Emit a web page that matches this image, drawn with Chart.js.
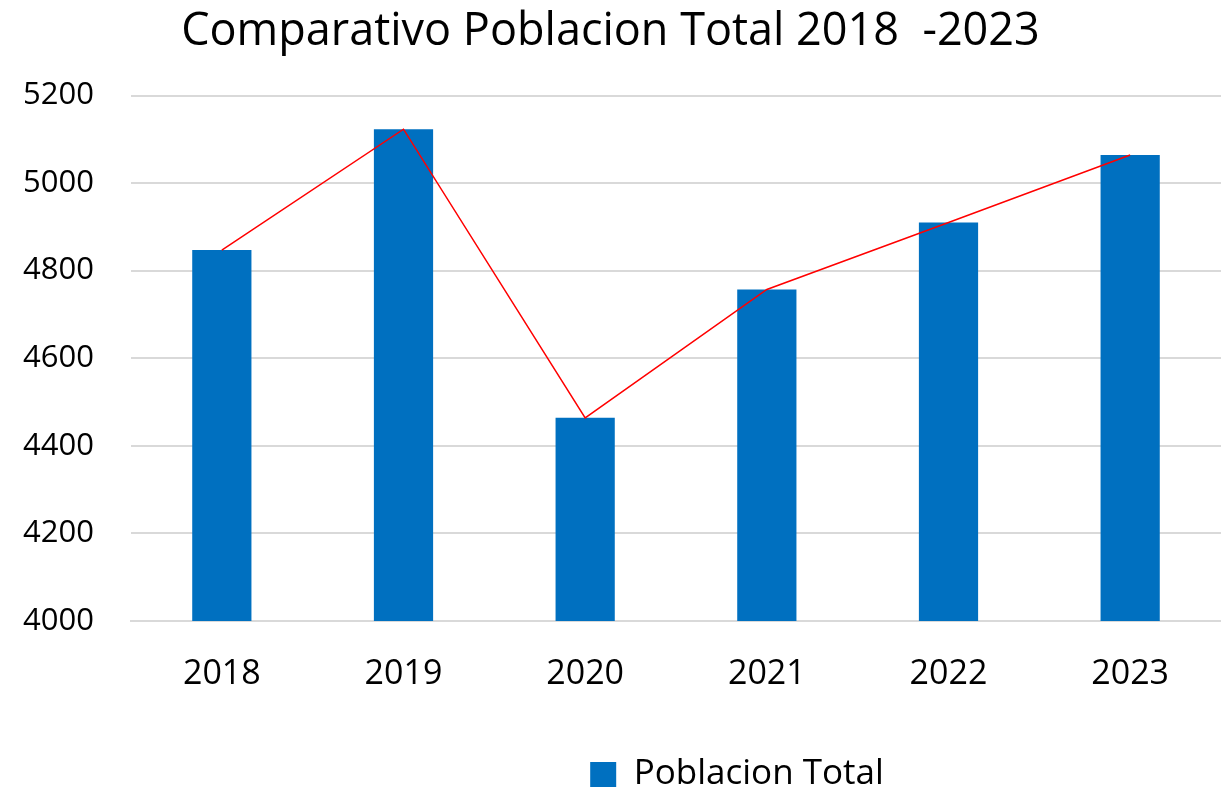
<!DOCTYPE html>
<html>
<head>
<meta charset="utf-8">
<script src="https://cdn.jsdelivr.net/npm/chart.js@4/dist/chart.umd.min.js"></script>
<style>
  html, body { margin: 0; padding: 0; background: #fff; }
  #chart { display: block; }
</style>
</head>
<body>
<canvas id="chart" width="1221" height="792"></canvas>
<script>
const years = ["2018", "2019", "2020", "2021", "2022", "2023"];
const poblacion = [4847, 5123, 4464, 4757, 4910, 5064];
const yTicks = [4000, 4200, 4400, 4600, 4800, 5000, 5200];

const font = "'Open Sans', 'Noto Sans', sans-serif";

// move the legend to where the original puts it (slightly right of centre)
const legendSpot = {
    id: "legendSpot",
    afterLayout(chart) {
        const lg = chart.legend;
        if (!lg) return;
        const dx = 737 - (lg.left + lg.right) / 2;
        const dy = 779.5 - (lg.top + lg.bottom) / 2;
        lg.left += dx; lg.right += dx;
        lg.top += dy; lg.bottom += dy;
        if (lg.adjustHitBoxes) lg.adjustHitBoxes();
    }
};

const ctx = document.getElementById("chart");
new Chart(ctx, {
    data: {
        labels: years,
        datasets: [
            {
                type: "line",
                label: "tendencia",
                data: poblacion,
                borderColor: "#ff0000",
                borderWidth: 1.5,
                pointRadius: 0,
                tension: 0,
                order: 0
            },
            {
                type: "bar",
                label: "Poblacion Total",
                data: poblacion,
                backgroundColor: "#0070c0",
                barPercentage: 0.326,
                categoryPercentage: 1,
                order: 1
            }
        ]
    },
    plugins: [legendSpot],
    options: {
        responsive: false,
        animation: false,
        layout: { padding: 0 },
        plugins: {
            title: {
                display: true,
                text: "Comparativo Poblacion Total 2018  -2023",
                color: "#000",
                font: { family: font, size: 45, weight: "normal" },
                padding: { top: 5, bottom: 36.5 }
            },
            legend: {
                position: "bottom",
                labels: {
                    color: "#000",
                    font: { family: font, size: 35 },
                    boxWidth: 26,
                    boxHeight: 25,
                    padding: 0,
                    filter: (item) => item.text === "Poblacion Total"
                }
            },
            tooltip: { enabled: false }
        },
        scales: {
            x: {
                grid: { display: false },
                border: { color: "#d9d9d9", width: 2 },
                ticks: {
                    color: "#000",
                    font: { family: font, size: 34 },
                    padding: 25
                },
                afterFit: (axis) => { axis.height = 126; }
            },
            y: {
                min: 4000,
                max: 5200,
                afterBuildTicks: (axis) => { axis.ticks = yTicks.map(v => ({ value: v })); },
                grid: { color: "#d9d9d9", lineWidth: 2, drawTicks: false },
                border: { display: false },
                ticks: {
                    color: "#000",
                    font: { family: font, size: 31 },
                    padding: 37,
                    callback: (v) => String(v)
                },
                afterFit: (axis) => { axis.width = 131; }
            }
        }
    }
});
</script>
</body>
</html>
